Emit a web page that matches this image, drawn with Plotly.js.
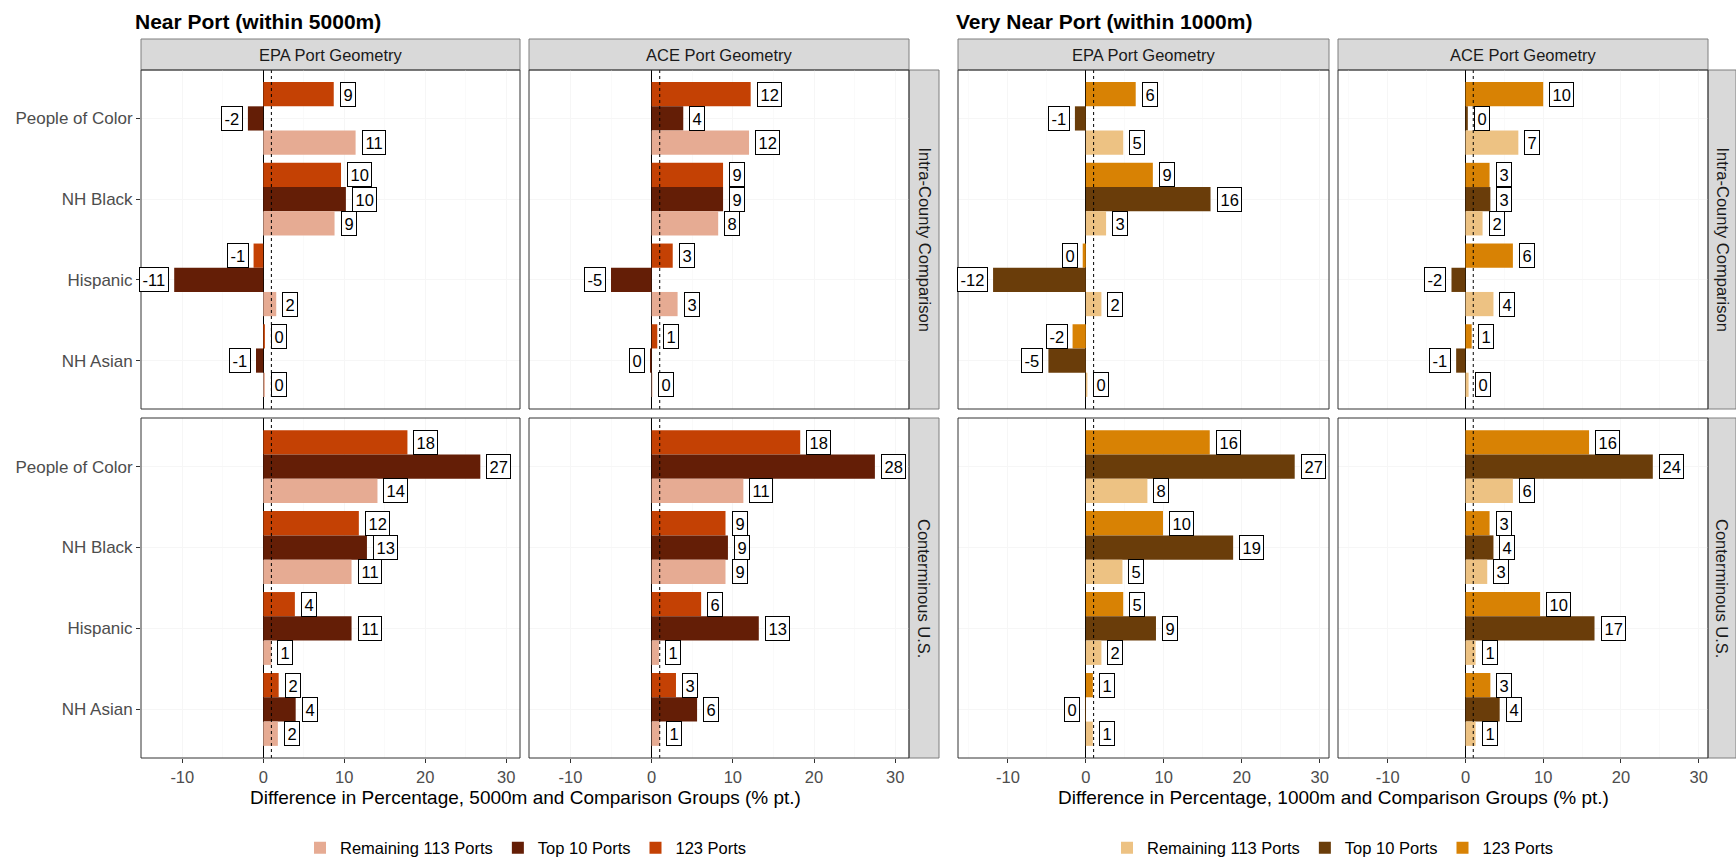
<!DOCTYPE html>
<html>
<head>
<meta charset="utf-8">
<script src="https://cdn.plot.ly/plotly-3.0.1.min.js"></script>
<style>
  html, body { margin: 0; padding: 0; background: #ffffff; }
  #chart { width: 1736px; height: 862px; }
</style>
</head>
<body>
<div id="chart"></div>
<script>
// ---- categories, labels ----
const categories = ["People of Color", "NH Black", "Hispanic", "NH Asian"];
const seriesNames = ["123 Ports", "Top 10 Ports", "Remaining 113 Ports"];
const geometries = ["EPA Port Geometry", "ACE Port Geometry"];
const comparisons = ["Intra-County Comparison", "Conterminous U.S."];
const halfTitles = ["Near Port (within 5000m)", "Very Near Port (within 1000m)"];
const axisTitles = [
  "Difference in Percentage, 5000m and Comparison Groups (% pt.)",
  "Difference in Percentage, 1000m and Comparison Groups (% pt.)"
];
const xTicks = [-10, 0, 10, 20, 30];

// ---- within 5000m (% pt. difference) ----
const near_intra_epa_123   = [8.7, 9.6, -1.2, 0.2];
const near_intra_epa_top10 = [-1.9, 10.2, -11.0, -0.9];
const near_intra_epa_rem   = [11.4, 8.8, 1.6, 0.2];
const near_intra_ace_123   = [12.2, 8.8, 2.6, 0.7];
const near_intra_ace_top10 = [3.9, 8.8, -5.0, -0.2];
const near_intra_ace_rem   = [12.0, 8.2, 3.2, 0.1];
const near_us_epa_123      = [17.8, 11.8, 3.9, 1.9];
const near_us_epa_top10    = [26.8, 12.8, 10.9, 4.0];
const near_us_epa_rem      = [14.1, 10.9, 1.0, 1.8];
const near_us_ace_123      = [18.3, 9.1, 6.1, 3.0];
const near_us_ace_top10    = [27.5, 9.4, 13.2, 5.6];
const near_us_ace_rem      = [11.3, 9.1, 0.9, 1.0];

// ---- within 1000m (% pt. difference) ----
const vnear_intra_epa_123   = [6.4, 8.6, -0.4, -1.7];
const vnear_intra_epa_top10 = [-1.4, 16.0, -11.9, -4.8];
const vnear_intra_epa_rem   = [4.8, 2.6, 2.0, 0.2];
const vnear_intra_ace_123   = [10.0, 3.1, 6.1, 0.8];
const vnear_intra_ace_top10 = [0.3, 3.2, -1.8, -1.2];
const vnear_intra_ace_rem   = [6.8, 2.2, 3.6, 0.4];
const vnear_us_epa_123      = [15.9, 9.9, 4.8, 0.9];
const vnear_us_epa_top10    = [26.8, 18.9, 9.0, -0.1];
const vnear_us_epa_rem      = [7.9, 4.7, 2.0, 0.9];
const vnear_us_ace_123      = [15.9, 3.1, 9.6, 3.2];
const vnear_us_ace_top10    = [24.1, 3.6, 16.6, 4.4];
const vnear_us_ace_rem      = [6.1, 2.8, 1.3, 1.3];

// ---- palettes (123, Top 10, Remaining) ----
const nearColors  = ["#C44104", "#641E06", "#E6AB93"];
const vnearColors = ["#D88204", "#6A3D0A", "#EDC283"];

// ---- page geometry (px) ----
const W = 1736, H = 862;
const colPx = [[141, 520], [529, 909], [958, 1329], [1338, 1708]];
const rowPx = [[70, 409], [418, 758]];
const stripTopPx = 39;
const rowStripPx = [[909, 939], [1708, 1736]];
const halfRange = [[-15.1, 31.7], [-16.4, 31.2]];

const FONT = "Liberation Sans, Arial, Helvetica, sans-serif";
const fx = p => p / W;
const fy = p => 1 - p / H;

const xIds = ["x", "x2", "x3", "x4"];
const yIds = ["y", "y2"];

// panel list: row (comparison), column (half*2 + geometry)
const panels = [
  { r: 0, c: 0, s: [near_intra_epa_123, near_intra_epa_top10, near_intra_epa_rem] },
  { r: 0, c: 1, s: [near_intra_ace_123, near_intra_ace_top10, near_intra_ace_rem] },
  { r: 1, c: 0, s: [near_us_epa_123, near_us_epa_top10, near_us_epa_rem] },
  { r: 1, c: 1, s: [near_us_ace_123, near_us_ace_top10, near_us_ace_rem] },
  { r: 0, c: 2, s: [vnear_intra_epa_123, vnear_intra_epa_top10, vnear_intra_epa_rem] },
  { r: 0, c: 3, s: [vnear_intra_ace_123, vnear_intra_ace_top10, vnear_intra_ace_rem] },
  { r: 1, c: 2, s: [vnear_us_epa_123, vnear_us_epa_top10, vnear_us_epa_rem] },
  { r: 1, c: 3, s: [vnear_us_ace_123, vnear_us_ace_top10, vnear_us_ace_rem] }
];

const traces = [];
const annotations = [];
const shapes = [];
const legendRank = [3, 2, 1];

panels.forEach(p => {
  const half = p.c < 2 ? 0 : 1;
  const colors = half === 0 ? nearColors : vnearColors;
  const firstOfHalf = (p.r === 0 && (p.c === 0 || p.c === 2));
  p.s.forEach((vals, k) => {
    traces.push({
      type: "bar",
      orientation: "h",
      x: vals,
      y: categories,
      name: seriesNames[k],
      xaxis: xIds[p.c],
      yaxis: yIds[p.r],
      marker: { color: colors[k], line: { width: 0 } },
      showlegend: firstOfHalf,
      legend: half === 0 ? "legend" : "legend2",
      legendrank: legendRank[k],
      hoverinfo: "x+y+name"
    });
    // value labels at the bar ends
    vals.forEach((v, i) => {
      const neg = v < 0;
      annotations.push({
        xref: xIds[p.c], yref: yIds[p.r],
        x: v, y: i + (k - 1) * 0.3,
        text: String(Math.round(v)),
        showarrow: false,
        xanchor: neg ? "right" : "left",
        yanchor: "middle",
        xshift: neg ? -5 : 6,
        font: { family: FONT, size: 16.5, color: "#000000" },
        bgcolor: "#ffffff",
        bordercolor: "#000000",
        borderwidth: 1,
        borderpad: 2.5
      });
    });
  });

  // reference line at 1 % pt.
  shapes.push({
    type: "line", xref: xIds[p.c], yref: yIds[p.r] + " domain",
    x0: 1, x1: 1, y0: 0, y1: 1,
    line: { color: "#000000", width: 1, dash: "3px,3px" }, layer: "above"
  });
  // panel border
  shapes.push({
    type: "rect", xref: "paper", yref: "paper",
    x0: fx(colPx[p.c][0]), x1: fx(colPx[p.c][1]),
    y0: fy(rowPx[p.r][1]), y1: fy(rowPx[p.r][0]),
    line: { color: "#333333", width: 1 }, fillcolor: "rgba(0,0,0,0)", layer: "above"
  });
});

// column strips
colPx.forEach((cp, c) => {
  shapes.push({
    type: "rect", xref: "paper", yref: "paper",
    x0: fx(cp[0]), x1: fx(cp[1]), y0: fy(rowPx[0][0]), y1: fy(stripTopPx),
    line: { color: "#7F7F7F", width: 1 }, fillcolor: "#D9D9D9", layer: "below"
  });
  annotations.push({
    xref: "paper", yref: "paper",
    x: fx((cp[0] + cp[1]) / 2), y: fy((stripTopPx + rowPx[0][0]) / 2),
    text: geometries[c % 2], showarrow: false,
    xanchor: "center", yanchor: "middle",
    font: { family: FONT, size: 16.5, color: "#1A1A1A" }
  });
});

// row strips
rowStripPx.forEach(sp => {
  rowPx.forEach((rp, r) => {
    shapes.push({
      type: "rect", xref: "paper", yref: "paper",
      x0: fx(sp[0]), x1: fx(sp[1]), y0: fy(rp[1]), y1: fy(rp[0]),
      line: { color: "#7F7F7F", width: 1 }, fillcolor: "#D9D9D9", layer: "below"
    });
    annotations.push({
      xref: "paper", yref: "paper",
      x: fx((sp[0] + sp[1]) / 2), y: fy((rp[0] + rp[1]) / 2),
      text: comparisons[r], showarrow: false, textangle: 90,
      xanchor: "center", yanchor: "middle",
      font: { family: FONT, size: 16.5, color: "#1A1A1A" }
    });
  });
});

// half titles and shared x-axis titles
annotations.push({
  xref: "paper", yref: "paper", x: fx(133), y: fy(21),
  text: halfTitles[0], showarrow: false, xanchor: "left", yanchor: "middle",
  font: { family: FONT, size: 21, color: "#000000", weight: "bold" }
});
annotations.push({
  xref: "paper", yref: "paper", x: fx(954), y: fy(21),
  text: halfTitles[1], showarrow: false, xanchor: "left", yanchor: "middle",
  font: { family: FONT, size: 21, color: "#000000", weight: "bold" }
});
annotations.push({
  xref: "paper", yref: "paper", x: fx(525), y: fy(797),
  text: axisTitles[0], showarrow: false, xanchor: "center", yanchor: "middle",
  font: { family: FONT, size: 19, color: "#000000" }
});
annotations.push({
  xref: "paper", yref: "paper", x: fx(1333), y: fy(797),
  text: axisTitles[1], showarrow: false, xanchor: "center", yanchor: "middle",
  font: { family: FONT, size: 19, color: "#000000" }
});

const layout = {
  width: W, height: H,
  margin: { l: 0, r: 0, t: 0, b: 0, autoexpand: false },
  paper_bgcolor: "#ffffff",
  plot_bgcolor: "#ffffff",
  barmode: "group",
  bargap: 0.1,
  bargroupgap: 0,
  font: { family: FONT, size: 16, color: "#000000" },
  annotations: annotations,
  shapes: shapes,
  showlegend: true,
  legend: {
    orientation: "h", x: fx(526), xanchor: "center", y: fy(848), yanchor: "middle",
    font: { family: FONT, size: 16.5, color: "#000000" }, bgcolor: "rgba(0,0,0,0)"
  },
  legend2: {
    orientation: "h", x: fx(1333), xanchor: "center", y: fy(848), yanchor: "middle",
    font: { family: FONT, size: 16.5, color: "#000000" }, bgcolor: "rgba(0,0,0,0)"
  }
};

xIds.forEach((id, c) => {
  const key = c === 0 ? "xaxis" : "xaxis" + (c + 1);
  layout[key] = {
    domain: [fx(colPx[c][0]), fx(colPx[c][1])],
    anchor: "y2",
    range: halfRange[c < 2 ? 0 : 1],
    tickmode: "array", tickvals: xTicks, ticktext: xTicks.map(String),
    ticks: "outside", ticklen: 4, tickcolor: "#333333",
    tickfont: { family: FONT, size: 16.5, color: "#4D4D4D" },
    showgrid: true, gridcolor: "#F6F6F6", gridwidth: 1,
    minor: { tickvals: [-15, -5, 5, 15, 25], showgrid: true, gridcolor: "#FAFAFA" },
    zeroline: true, zerolinecolor: "#000000", zerolinewidth: 1,
    showline: false, fixedrange: true
  };
});

yIds.forEach((id, r) => {
  const key = r === 0 ? "yaxis" : "yaxis2";
  layout[key] = {
    domain: [fy(rowPx[r][1]), fy(rowPx[r][0])],
    anchor: "x",
    type: "category",
    categoryorder: "array", categoryarray: categories,
    range: [3.6, -0.6],
    ticks: "outside", ticklen: 4, tickcolor: "#333333",
    tickfont: { family: FONT, size: 17, color: "#4D4D4D" },
    showgrid: true, gridcolor: "#F6F6F6", gridwidth: 1,
    zeroline: false, showline: false, fixedrange: true
  };
});

Plotly.newPlot("chart", traces, layout, { displayModeBar: false, staticPlot: true });
</script>
</body>
</html>
